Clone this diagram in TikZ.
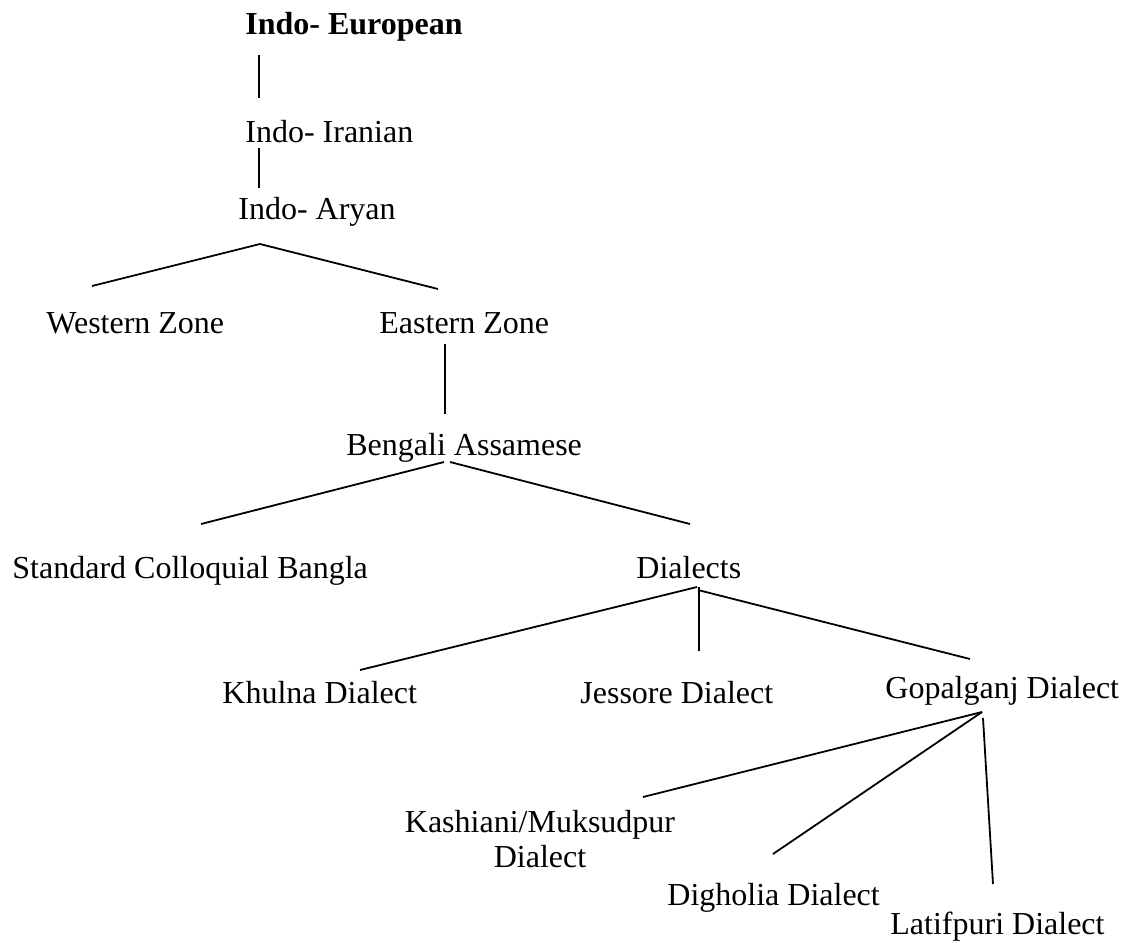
\documentclass[tikz,border=0pt]{standalone}
\usepackage{fontspec}
\setmainfont{Liberation Serif}
\usepackage{tikz}

\begin{document}
\begin{tikzpicture}[x=0.5pt,y=-0.5pt]
\tikzset{lang/.style = {inner sep=0pt,anchor=base west,font=\fontsize{16}{19}\selectfont}}
\tikzset{edge/.style = {-,line width=0.9pt}}
\useasboundingbox (0,0) rectangle (1131,943);
\node[lang,font=\fontsize{16}{19}\selectfont\bfseries] (ie) at (245,34) {Indo- European};
\node[lang] (ii) at (245,142) {Indo- Iranian};
\node[lang] (ia) at (238,219) {Indo- Aryan};
\node[lang] (wz) at (46,333) {Western Zone};
\node[lang] (ez) at (379,333) {Eastern Zone};
\node[lang] (ba) at (346,455) {Bengali Assamese};
\node[lang] (scb) at (12,578) {Standard Colloquial Bangla};
\node[lang] (dia) at (636,578) {Dialects};
\node[lang] (khu) at (222,703) {Khulna Dialect};
\node[lang] (jes) at (580,703) {Jessore Dialect};
\node[lang] (gop) at (885,698) {Gopalganj Dialect};
\node[lang,anchor=base,align=center,font=\fontsize{16}{17.5}\selectfont] (kas) at (540,867) {Kashiani/Muksudpur\\Dialect};
\node[lang] (dig) at (667,905) {Digholia Dialect};
\node[lang] (lat) at (890,934) {Latifpuri Dialect};
\coordinate (ie1) at (259,55);
\coordinate (ii0) at (259,98);
\coordinate (ii1) at (259,148);
\coordinate (ia0) at (259,188);
\coordinate (ia1) at (260,244);
\coordinate (wz0) at (92,286);
\coordinate (ez0) at (438,289);
\coordinate (ez1) at (445,344);
\coordinate (ba0) at (445,414);
\coordinate (ba1) at (444,462);
\coordinate (ba2) at (450,462);
\coordinate (scb0) at (201,524);
\coordinate (dia0) at (690,524);
\coordinate (dia1) at (697,587);
\coordinate (dia2) at (699,587);
\coordinate (dia3) at (698,590);
\coordinate (khu0) at (360,670);
\coordinate (jes0) at (699,651);
\coordinate (gop0) at (970,659);
\coordinate (gop1) at (982,712);
\coordinate (gop2) at (983,718);
\coordinate (kas0) at (643,797);
\coordinate (dig0) at (773,854);
\coordinate (lat0) at (993,884);
\draw[edge] (ie1) to (ii0);
\draw[edge] (ii1) to (ia0);
\draw[edge] (ia1) to (wz0);
\draw[edge] (ia1) to (ez0);
\draw[edge] (ez1) to (ba0);
\draw[edge] (ba1) to (scb0);
\draw[edge] (ba2) to (dia0);
\draw[edge] (dia1) to (khu0);
\draw[edge] (dia2) to (jes0);
\draw[edge] (dia3) to (gop0);
\draw[edge] (gop1) to (kas0);
\draw[edge] (gop1) to (dig0);
\draw[edge] (gop2) to (lat0);
\end{tikzpicture}
\end{document}
